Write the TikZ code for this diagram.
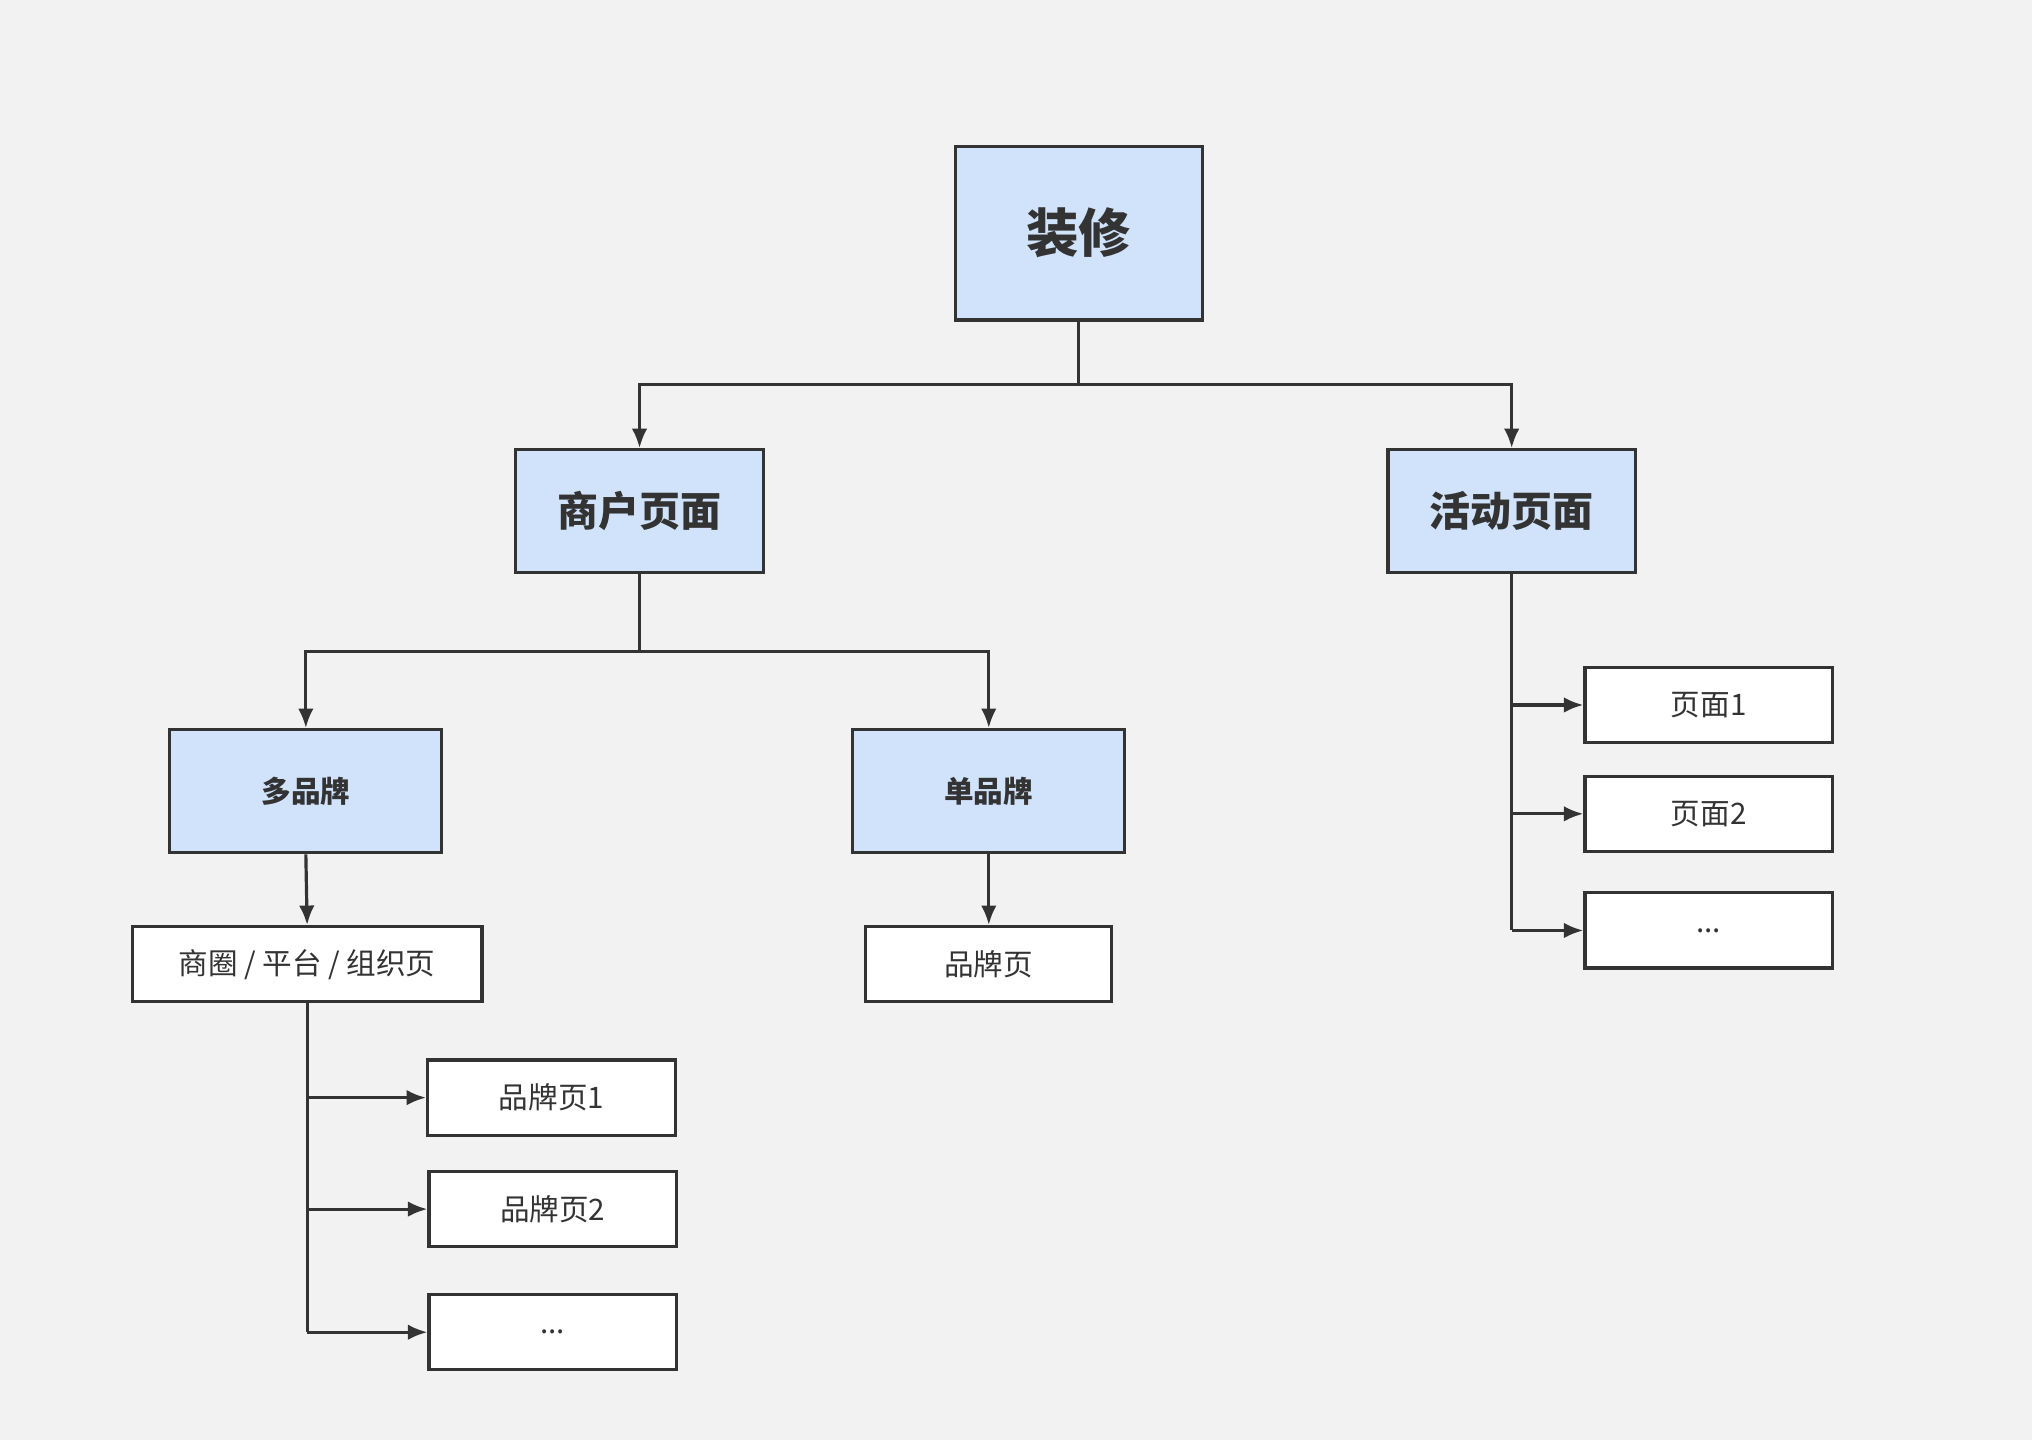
\documentclass[tikz,border=0pt]{standalone}
\usepackage{fontspec}
\newfontfamily\cjk{Noto Sans CJK SC}
\usetikzlibrary{arrows.meta}
\definecolor{bg}{HTML}{F2F2F2}
\definecolor{boxblue}{HTML}{D0E3FA}
\definecolor{ink}{HTML}{333333}
\begin{document}
\begin{tikzpicture}[x=0.02cm,y=-0.02cm,
    line width=1.4pt, draw=ink, text=ink, font=\cjk,
    box/.style={draw=ink, line width=1.4pt, inner sep=0pt},
    head/.style={box, fill=boxblue, font=\cjk\bfseries},
    leaf/.style={box, fill=white, minimum width=3.82cm, minimum height=1.16cm, font=\cjk\fontsize{13}{15}\selectfont},
    arr/.style={-{Latex[length=0.3cm,width=0.24cm]}, ink}]
  \fill[bg] (0,0) rectangle (1568,1111);
  \useasboundingbox (0,0) rectangle (1568,1111);

  % Top levels
  \node[head, minimum width=3.82cm, minimum height=2.68cm, font=\cjk\bfseries\fontsize{23}{26}\selectfont] (root) at (832.5,180) {装修};
  \node[head, minimum width=3.82cm, minimum height=1.9cm, font=\cjk\bfseries\fontsize{18}{21}\selectfont] (shop) at (493.5,394.5) {商户页面};
  \node[head, minimum width=3.82cm, minimum height=1.9cm, font=\cjk\bfseries\fontsize{18}{21}\selectfont] (act) at (1166.5,394.5) {活动页面};
  \node[head, minimum width=4.2cm, minimum height=1.9cm, font=\cjk\bfseries\fontsize{13}{15}\selectfont] (multi) at (236,610.5) {多品牌};
  \node[head, minimum width=4.2cm, minimum height=1.9cm, font=\cjk\bfseries\fontsize{13}{15}\selectfont] (single) at (763,610.5) {单品牌};

  % Leaves
  \node[leaf, minimum width=5.4cm] (circle) at (237,744) {商圈 / 平台 / 组织页};
  \node[leaf, minimum width=3.8cm] (brand) at (763,744) {品牌页};
  \node[leaf] (p1) at (1318.5,544) {页面1};
  \node[leaf] (p2) at (1318.5,628) {页面2};
  \node[leaf] (p3) at (1318.5,718) {...};
  \node[leaf] (b1) at (425.5,847) {品牌页1};
  \node[leaf] (b2) at (426.5,933) {品牌页2};
  \node[leaf] (b3) at (426.5,1028) {...};

  % Connectors
  \coordinate (rootbus) at (832.5,297);
  \coordinate (shopbus) at (493.5,503);
  \draw (root.south) -- (rootbus);
  \draw[arr] (rootbus) -| (shop.north);
  \draw[arr] (rootbus) -| (act.north);
  \draw (shop.south) -- (shopbus);
  \draw[arr] (shopbus) -| (multi.north);
  \draw[arr] (shopbus) -| (single.north);
  \draw[arr] (multi.south) -- (circle.north);
  \draw[arr] (single.south) -- (brand.north);

  \draw (act.south) -- (act.south |- p3.west);
  \foreach \p in {p1,p2,p3}
    \draw[arr] (act.south |- \p.west) -- (\p.west);
  \draw (circle.south) -- (circle.south |- b3.west);
  \foreach \b in {b1,b2,b3}
    \draw[arr] (circle.south |- \b.west) -- (\b.west);
\end{tikzpicture}
\end{document}
